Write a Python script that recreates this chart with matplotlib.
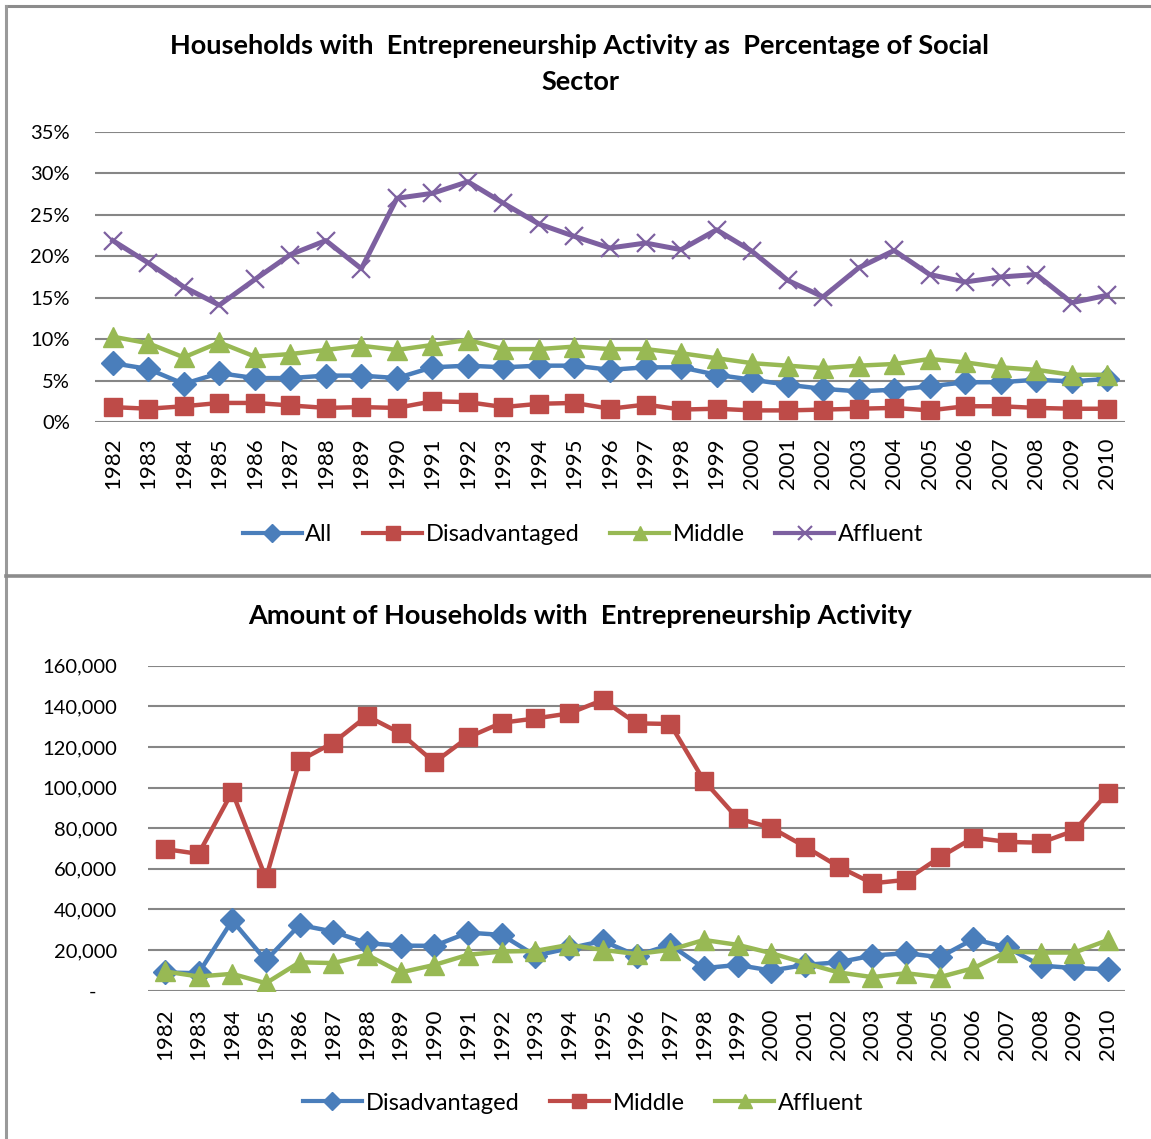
import matplotlib
matplotlib.use("Agg")
import matplotlib.pyplot as plt
from matplotlib.lines import Line2D
from matplotlib.ticker import FuncFormatter

plt.rcParams['font.family'] = ['Lato', 'DejaVu Sans']

years = [str(y) for y in range(1982, 2011)]

# top chart: share of households (%)
share_all = [7.1, 6.4, 4.6, 5.9, 5.3, 5.3, 5.6, 5.6, 5.3, 6.6, 6.8, 6.6, 6.8, 6.8, 6.3,
             6.6, 6.6, 5.7, 5.1, 4.5, 4.0, 3.7, 3.9, 4.3, 4.8, 4.8, 5.1, 4.9, 5.2]
share_disadv = [1.8, 1.6, 1.9, 2.3, 2.3, 2.0, 1.7, 1.8, 1.7, 2.5, 2.4, 1.8, 2.2, 2.3, 1.6,
                2.1, 1.5, 1.6, 1.4, 1.4, 1.5, 1.6, 1.7, 1.4, 1.9, 1.9, 1.7, 1.6, 1.6]
share_middle = [10.3, 9.5, 7.8, 9.6, 7.9, 8.2, 8.7, 9.2, 8.7, 9.3, 9.9, 8.8, 8.8, 9.1, 8.8,
                8.8, 8.3, 7.7, 7.1, 6.8, 6.5, 6.8, 7.0, 7.6, 7.2, 6.6, 6.3, 5.7, 5.7]
share_affluent = [21.9, 19.2, 16.3, 14.1, 17.2, 20.2, 21.9, 18.5, 27.0, 27.6, 29.0, 26.4, 23.9, 22.4, 21.0,
                  21.6, 20.8, 23.2, 20.6, 17.1, 15.1, 18.6, 20.7, 17.8, 16.9, 17.5, 17.8, 14.4, 15.3]

# bottom chart: number of households
amt_disadv = [8900, 8500, 34500, 14800, 32300, 29000, 23300, 22100, 22000, 28500, 27400, 17200, 20800, 24400, 17200,
              22500, 11000, 12600, 9800, 12600, 13900, 17200, 18400, 16400, 25300, 21200, 12300, 11000, 10500]
amt_middle = [69700, 67300, 97900, 55300, 113200, 122100, 135200, 126700, 112400, 124700, 131900, 134000, 136500, 143100, 131600,
              131300, 103400, 84800, 80200, 70900, 61000, 52800, 54500, 65600, 75300, 73200, 72800, 78800, 97500]
amt_affluent = [9400, 6900, 8200, 3600, 13900, 13500, 17600, 8900, 12600, 17600, 19200, 19500, 22500, 20000, 18000,
                20000, 24900, 22500, 18400, 13500, 8900, 6600, 8500, 6600, 11000, 19200, 18700, 18700, 24900]

BLUE = '#4A7EBB'
RED = '#BE4B48'
GREEN = '#98B954'
PURPLE = '#7D60A0'
GRID = '#868686'

W, H = 1151, 1139
fig = plt.figure(figsize=(W / 100, H / 100), dpi=100)


def box(l, t, r, b):
    return [l / W, 1 - b / H, (r - l) / W, (b - t) / H]


def style(ax, ymax, step):
    ax.set_xlim(-0.5, len(years) - 0.5)
    ax.set_ylim(0, ymax)
    ax.set_yticks([step * i for i in range(int(round(ymax / step)) + 1)])
    ax.set_xticks(range(len(years)))
    ax.set_xticklabels(years, rotation=90, fontsize=16)
    ax.grid(axis='y', color=GRID, linewidth=1.5)
    ax.set_axisbelow(True)
    for s in ax.spines.values():
        s.set_visible(False)
    ax.tick_params(length=0)
    ax.tick_params(axis='y', labelsize=14.5)
    ax.tick_params(axis='x', pad=11)


x = list(range(len(years)))

# ---- top chart
ax1 = fig.add_axes(box(95, 132, 1125, 422))
ax1.plot(x, share_all, color=BLUE, lw=3.2, marker='D', ms=12, label='All')
ax1.plot(x, share_disadv, color=RED, lw=3.2, marker='s', ms=13, label='Disadvantaged')
ax1.plot(x, share_middle, color=GREEN, lw=3.2, marker='^', ms=14, label='Middle')
ax1.plot(x, share_affluent, color=PURPLE, lw=3.6, marker='x', ms=13, mew=1.6, label='Affluent')
style(ax1, 35, 5)
ax1.yaxis.set_major_formatter(FuncFormatter(lambda v, p: f"{v:.0f}%"))
ax1.tick_params(axis='y', pad=18)

fig.text(580 / W, 1 - 64 / H, "Households with  Entrepreneurship Activity as  Percentage of Social\nSector",
         ha='center', va='center', fontsize=19.5, fontweight='bold', linespacing=1.55)

h1 = [Line2D([], [], color=BLUE, lw=3, marker='D', ms=9),
      Line2D([], [], color=RED, lw=3, marker='s', ms=10),
      Line2D([], [], color=GREEN, lw=3, marker='^', ms=10),
      Line2D([], [], color=PURPLE, lw=3, marker='x', ms=10, mew=1.5)]
fig.legend(h1, ['All', 'Disadvantaged', 'Middle', 'Affluent'], loc='center',
           bbox_to_anchor=(583 / W, 1 - 535 / H), ncol=4, frameon=False, fontsize=17,
           handlelength=2.5, handletextpad=0.15, columnspacing=1.3)

# ---- bottom chart
ax2 = fig.add_axes(box(148, 665.7, 1125, 990.5))
ax2.plot(x, amt_disadv, color=BLUE, lw=3.2, marker='D', ms=12, label='Disadvantaged')
ax2.plot(x, amt_middle, color=RED, lw=3.2, marker='s', ms=13, label='Middle')
ax2.plot(x, amt_affluent, color=GREEN, lw=3.2, marker='^', ms=14, label='Affluent')
style(ax2, 160000, 20000)
ax2.yaxis.set_major_formatter(FuncFormatter(lambda v, p: "-    " if v == 0 else f"{v:,.0f}"))
ax2.tick_params(axis='y', pad=22)
ax2.tick_params(axis='x', pad=13)

fig.text(580 / W, 1 - 616 / H, "Amount of Households with  Entrepreneurship Activity",
         ha='center', va='center', fontsize=19.5, fontweight='bold')

h2 = [Line2D([], [], color=BLUE, lw=3, marker='D', ms=9),
      Line2D([], [], color=RED, lw=3, marker='s', ms=10),
      Line2D([], [], color=GREEN, lw=3, marker='^', ms=10)]
fig.legend(h2, ['Disadvantaged', 'Middle', 'Affluent'], loc='center',
           bbox_to_anchor=(583 / W, 1 - 1103 / H), ncol=3, frameon=False, fontsize=17,
           handlelength=2.5, handletextpad=0.15, columnspacing=1.3)

# panel frames
fig.add_artist(Line2D([6 / W, 1], [1 - 6 / H, 1 - 6 / H], color='#8C8C8C', lw=2.2))
fig.add_artist(Line2D([6 / W, 6 / W], [0, 1 - 6 / H], color='#9A9A9A', lw=2.2))
fig.add_artist(Line2D([6 / W, 1], [1 - 576 / H, 1 - 576 / H], color='#8C8C8C', lw=2.6))

fig.savefig('out.png', dpi=100, facecolor='white')
